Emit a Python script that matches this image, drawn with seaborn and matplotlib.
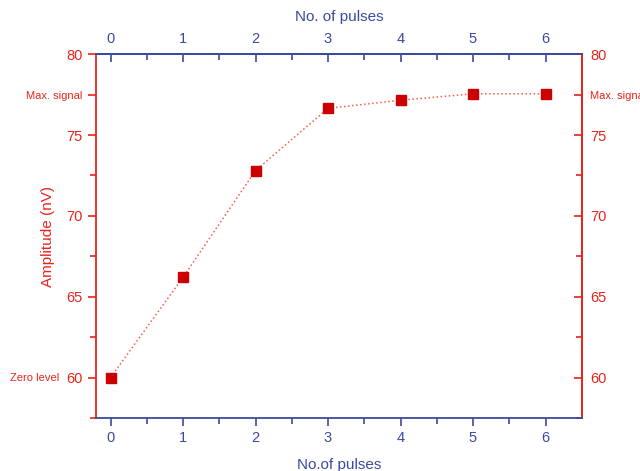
import pandas as pd
import seaborn as sns
import matplotlib.pyplot as plt

# dane
pulses = [0, 1, 2, 3, 4, 5, 6]
amplitude = [60.0, 66.2, 72.8, 76.65, 77.15, 77.55, 77.55]
zero_level = 60.0
max_signal = 77.5
major_y = [60, 65, 70, 75, 80]
minor_y = [57.5, 62.5, 67.5, 72.5, 77.5]

red = '#e8231c'
blue = '#3a4a9f'

sns.set_theme(style='white')
plt.rcParams['font.family'] = ['Liberation Sans', 'DejaVu Sans']

df = pd.DataFrame({'pulses': pulses, 'amplitude': amplitude})

fig = plt.figure(figsize=(6.4, 4.71), dpi=100)
ax = fig.add_axes([0.15, 0.1125, 0.759, 0.7725])

sns.lineplot(data=df, x='pulses', y='amplitude', ax=ax, color='#f0604a',
             linestyle=':', linewidth=1.1)
ax.plot(pulses, amplitude, linestyle='none', marker='s', markersize=6.5,
        color='#cc0000', markeredgecolor='#cc0000')

ax.set_xlim(-0.2, 6.5)
ax.set_ylim(57.5, 80)

for side in ['left', 'right']:
    ax.spines[side].set_color(red)
for side in ['top', 'bottom']:
    ax.spines[side].set_color(blue)
for s in ax.spines.values():
    s.set_linewidth(1.3)

# lewa oś
ax.set_yticks(major_y + [max_signal])
ax.set_yticklabels([str(v) for v in major_y] + ['Max. signal'])
ax.set_yticks(minor_y, minor=True)
ax.tick_params(axis='y', which='both', colors=red, direction='out', length=6,
               width=1.2, labelsize=10.5, left=True)
ax.tick_params(axis='y', which='minor', length=4)
ax.get_yticklabels()[-1].set_fontsize(8)
ax.set_ylabel('Amplitude (nV)', color=red, fontsize=11)
ax.yaxis.set_label_coords(-0.084, 0.5)
ax.annotate('Zero level', xy=(0, zero_level), xycoords=('axes fraction', 'data'),
            xytext=(-37, 0), textcoords='offset pixels', color=red, fontsize=8,
            ha='right', va='center', annotation_clip=False)

# dolna oś
ax.set_xticks(pulses)
ax.set_xticks([p + 0.5 for p in pulses[:-1]], minor=True)
ax.tick_params(axis='x', which='both', colors=blue, direction='out', length=6,
               width=1.2, labelsize=10.5, bottom=True)
ax.tick_params(axis='x', which='minor', length=4)
ax.set_xlabel('No.of pulses', color=blue, fontsize=11, labelpad=9)

# górna oś
top = ax.secondary_xaxis('top')
top.set_xticks(pulses)
top.set_xticks([p + 0.5 for p in pulses[:-1]], minor=True)
top.tick_params(axis='x', which='both', colors=blue, direction='in', length=6,
                width=1.2, labelsize=10.5, pad=6)
top.tick_params(axis='x', which='minor', length=4)
top.set_xlabel('No. of pulses', color=blue, fontsize=11, labelpad=8)
top.spines['top'].set_color(blue)
top.spines['top'].set_linewidth(1.3)

# prawa oś
right = ax.secondary_yaxis('right')
right.set_yticks(major_y + [max_signal])
right.set_yticklabels([str(v) for v in major_y] + ['Max. signal'])
right.set_yticks(minor_y, minor=True)
right.tick_params(axis='y', which='both', colors=red, direction='in', length=6,
                  width=1.2, labelsize=10.5, pad=6)
right.tick_params(axis='y', which='minor', length=4)
right.get_yticklabels()[-1].set_fontsize(8)
right.spines['right'].set_color(red)
right.spines['right'].set_linewidth(1.3)

plt.savefig('out.png', dpi=100)
